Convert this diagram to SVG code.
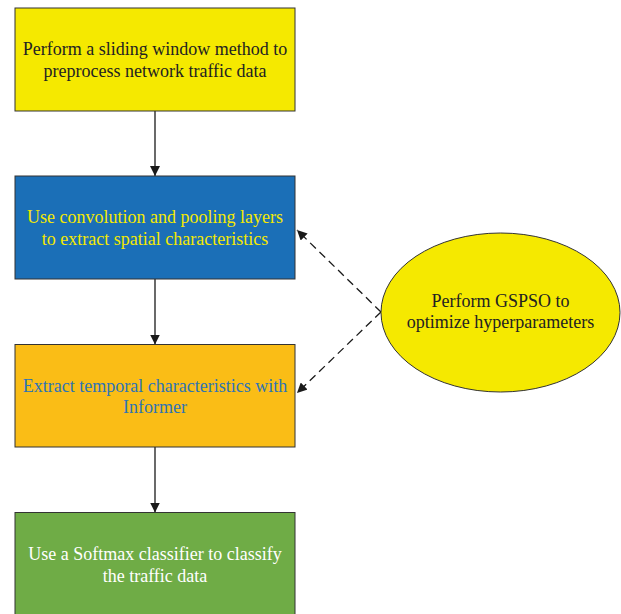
<svg xmlns="http://www.w3.org/2000/svg" width="621" height="614" viewBox="0 0 621 614">
  <defs>
    <marker id="arrow" viewBox="0 0 10 10" refX="10" refY="5" markerWidth="10" markerHeight="10" markerUnits="userSpaceOnUse" orient="auto">
      <path d="M0,0 L10,5 L0,10 z" fill="#1a1a1a"/>
    </marker>
    <style>
      .box { stroke: #333333; stroke-width: 1; }
      .lbl { font-family: 'Liberation Serif', serif; font-size: 18px; text-anchor: middle; }
      .flow { stroke: #1a1a1a; stroke-width: 1.3; fill: none; }
      .dash { stroke: #1a1a1a; stroke-width: 1.3; fill: none; stroke-dasharray: 8 5; }
    </style>
  </defs>
  <rect width="621" height="614" fill="#ffffff"/>

  <g id="connectors">
    <line class="flow" x1="155" y1="111" x2="155" y2="176" marker-end="url(#arrow)"/>
    <line class="flow" x1="155" y1="279" x2="155" y2="344.5" marker-end="url(#arrow)"/>
    <line class="flow" x1="155" y1="447" x2="155" y2="512.5" marker-end="url(#arrow)"/>
    <line class="dash" x1="381" y1="312" x2="297" y2="230" marker-end="url(#arrow)"/>
    <line class="dash" x1="381" y1="312" x2="297" y2="393" marker-end="url(#arrow)"/>
  </g>

  <g id="preprocess">
    <rect class="box" x="15" y="8" width="280" height="103" fill="#F5E900"/>
    <text class="lbl" x="155" y="55" fill="#222222">Perform a sliding window method to</text>
    <text class="lbl" x="155" y="77" fill="#222222">preprocess network traffic data</text>
  </g>

  <g id="spatial">
    <rect class="box" x="15" y="176" width="280" height="103" fill="#1B6FB7"/>
    <text class="lbl" x="155" y="223" fill="#F5E900">Use convolution and pooling layers</text>
    <text class="lbl" x="155" y="245" fill="#F5E900">to extract spatial characteristics</text>
  </g>

  <g id="temporal">
    <rect class="box" x="15" y="344.5" width="280" height="102.5" fill="#FABD16"/>
    <text class="lbl" x="155" y="391.5" fill="#2E74B5">Extract temporal characteristics with</text>
    <text class="lbl" x="155" y="413" fill="#2E74B5">Informer</text>
  </g>

  <g id="classify">
    <rect class="box" x="15" y="512.5" width="280" height="110" fill="#6FAC46"/>
    <text class="lbl" x="155" y="560" fill="#ffffff">Use a Softmax classifier to classify</text>
    <text class="lbl" x="155" y="581.5" fill="#ffffff">the traffic data</text>
  </g>

  <g id="gspso">
    <ellipse class="box" cx="500.5" cy="312.5" rx="119.5" ry="79.5" fill="#F5E900"/>
    <text class="lbl" x="500.5" y="306.5" fill="#222222">Perform GSPSO to</text>
    <text class="lbl" x="500.5" y="328" fill="#222222">optimize hyperparameters</text>
  </g>
</svg>
